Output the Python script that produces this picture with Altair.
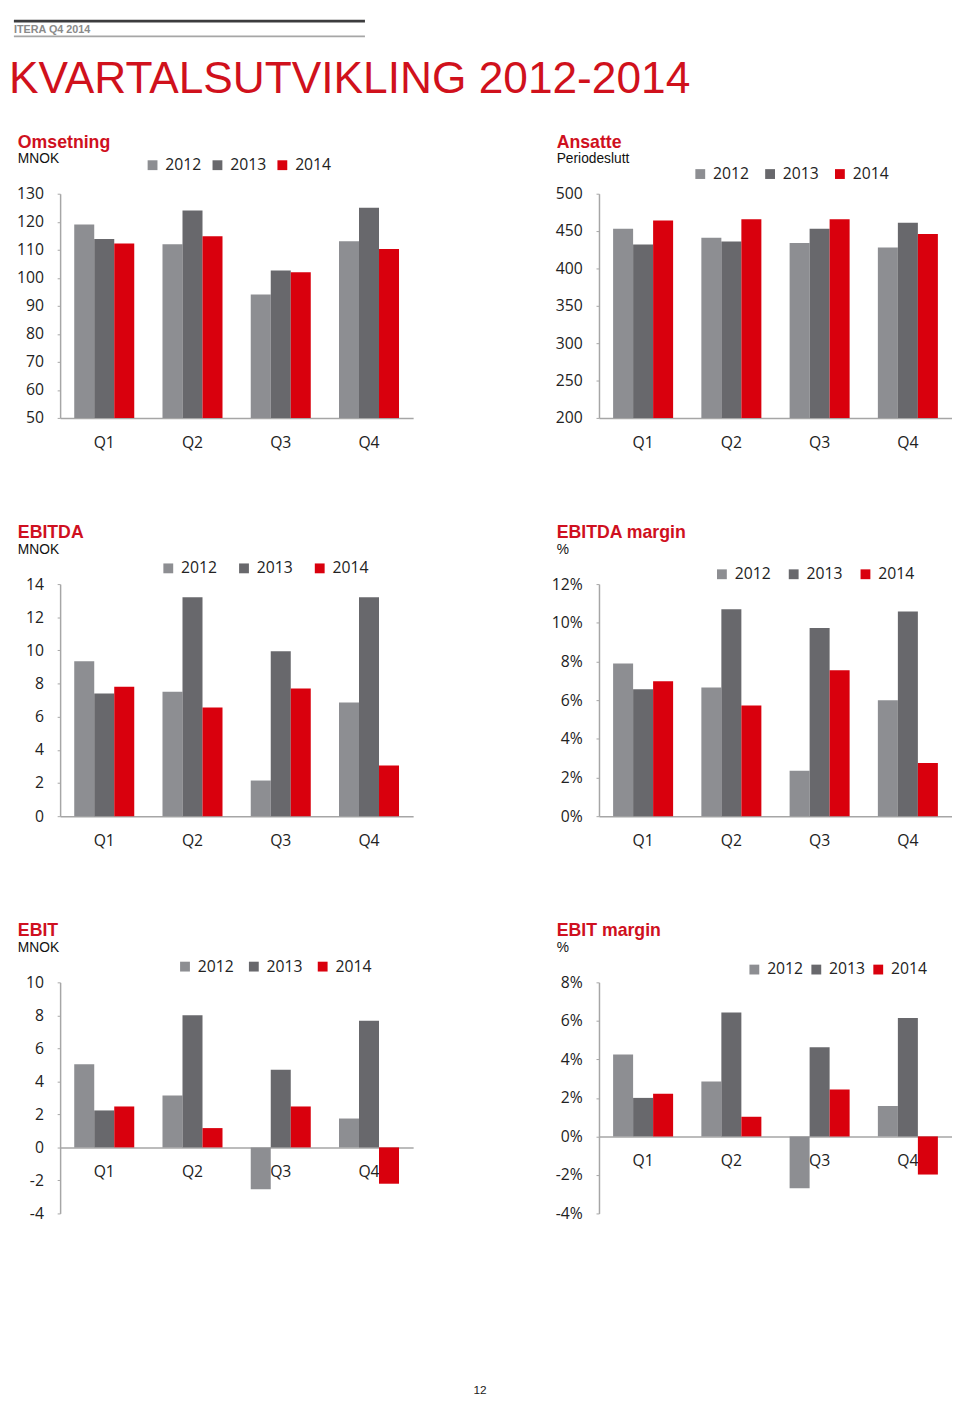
import altair as alt
import pandas as pd

quarters = ["Q1", "Q2", "Q3", "Q4"]
years = ["2012", "2013", "2014"]
year_colors = ["#8d8e92", "#68686c", "#d9000d"]

omsetning_2012 = [119.0, 112.0, 94.0, 113.0]
omsetning_2013 = [113.8, 124.0, 102.6, 125.0]
omsetning_2014 = [112.2, 114.8, 102.0, 110.3]

ansatte_2012 = [453, 441, 434, 428]
ansatte_2013 = [432, 436, 453, 461]
ansatte_2014 = [464, 466, 466, 446]

ebitda_2012 = [9.35, 7.5, 2.15, 6.85]
ebitda_2013 = [7.4, 13.2, 9.95, 13.2]
ebitda_2014 = [7.8, 6.55, 7.7, 3.05]

ebitda_margin_2012 = [7.9, 6.65, 2.35, 6.0]
ebitda_margin_2013 = [6.56, 10.7, 9.73, 10.58]
ebitda_margin_2014 = [6.98, 5.72, 7.55, 2.75]

ebit_2012 = [5.04, 3.15, -2.54, 1.75]
ebit_2013 = [2.24, 8.0, 4.7, 7.68]
ebit_2014 = [2.48, 1.17, 2.48, -2.2]

ebit_margin_2012 = [4.25, 2.85, -2.69, 1.58]
ebit_margin_2013 = [2.0, 6.44, 4.63, 6.15]
ebit_margin_2014 = [2.22, 1.02, 2.44, -1.98]

ticks_omsetning = [50, 60, 70, 80, 90, 100, 110, 120, 130]
ticks_ansatte = [200, 250, 300, 350, 400, 450, 500]
ticks_ebitda = [0, 2, 4, 6, 8, 10, 12, 14]
ticks_ebitda_margin = [0, 2, 4, 6, 8, 10, 12]
ticks_ebit = [-4, -2, 0, 2, 4, 6, 8, 10]
ticks_ebit_margin = [-4, -2, 0, 2, 4, 6, 8]

RED = "#cf1020"
AXIS_GRAY = "#a6a6a6"
LABEL_FONT = "Open Sans"
TITLE_FONT = "Liberation Sans"
PLOT_W = 359


def make_df(v2012, v2013, v2014):
    rows = []
    for yr, vals in zip(years, [v2012, v2013, v2014]):
        for q, v in zip(quarters, vals):
            rows.append({"quarter": q, "year": yr, "value": v})
    return pd.DataFrame(rows)


def panel(title, unit, df, ticks, base, pct, height, leg_x, leg_y, leg_gap):
    lo, hi = ticks[0], ticks[-1]
    if pct:
        label_expr = "(datum.value < 0 ? '-' : '') + abs(datum.value) + '%'"
    else:
        label_expr = "(datum.value < 0 ? '-' : '') + abs(datum.value)"
    x_offset = -height * (base - lo) / (hi - lo) if lo < 0 else 0

    bars = alt.Chart(df).mark_bar().encode(
        x=alt.X(
            "quarter:N",
            sort=quarters,
            scale=alt.Scale(paddingInner=0.32, paddingOuter=0.16),
            axis=alt.Axis(
                title=None, labelAngle=0, ticks=False, tickSize=0,
                labelPadding=17, domainColor=AXIS_GRAY, domainWidth=1.5,
                offset=x_offset, labelFontSize=16, labelFont=LABEL_FONT,
                labelColor="#222222",
            ),
        ),
        xOffset=alt.XOffset("year:N", sort=years,
                            scale=alt.Scale(paddingInner=0, paddingOuter=0)),
        y=alt.Y(
            "value:Q",
            scale=alt.Scale(domain=[lo, hi], nice=False, zero=False),
            axis=alt.Axis(
                title=None, values=ticks, labelExpr=label_expr, grid=False,
                tickSize=3, tickColor=AXIS_GRAY, domainColor=AXIS_GRAY,
                domainWidth=1.5, labelPadding=14, minExtent=53, maxExtent=53,
                labelFontSize=16, labelFont=LABEL_FONT, labelColor="#222222",
            ),
        ),
        y2=alt.datum(base),
        color=alt.Color(
            "year:N",
            scale=alt.Scale(domain=years, range=year_colors),
            legend=alt.Legend(
                title=None, orient="none", direction="horizontal",
                legendX=leg_x, legendY=leg_y, symbolType="square",
                symbolSize=100, symbolStrokeWidth=0, symbolOpacity=1,
                labelFontSize=16, labelFont=LABEL_FONT, labelColor="#222222",
                labelOffset=5, padding=0, columnPadding=leg_gap, rowPadding=0,
            ),
        ),
    )
    t1 = alt.Chart(pd.DataFrame({"t": [title]})).mark_text(
        align="left", baseline="alphabetic", fontSize=18, fontWeight="bold",
        font=TITLE_FONT, color=RED,
    ).encode(text="t:N", x=alt.value(-43), y=alt.value(-47))
    t2 = alt.Chart(pd.DataFrame({"t": [unit]})).mark_text(
        align="left", baseline="alphabetic", fontSize=14,
        font=TITLE_FONT, color="#111111",
    ).encode(text="t:N", x=alt.value(-43), y=alt.value(-31))
    return alt.layer(bars, t1, t2).properties(width=PLOT_W, height=height)


c1 = panel("Omsetning", "MNOK", make_df(omsetning_2012, omsetning_2013, omsetning_2014),
           ticks_omsetning, 50, False, 228, 86, -37, 8)
c2 = panel("Ansatte", "Periodeslutt", make_df(ansatte_2012, ansatte_2013, ansatte_2014),
           ticks_ansatte, 200, False, 228, 95, -28, 13)
c3 = panel("EBITDA", "MNOK", make_df(ebitda_2012, ebitda_2013, ebitda_2014),
           ticks_ebitda, 0, False, 236, 102, -24, 19)
c4 = panel("EBITDA margin", "%", make_df(ebitda_margin_2012, ebitda_margin_2013, ebitda_margin_2014),
           ticks_ebitda_margin, 0, True, 236, 117, -18, 15)
c5 = panel("EBIT", "MNOK", make_df(ebit_2012, ebit_2013, ebit_2014),
           ticks_ebit, 0, False, 235, 119, -24, 12)
c6 = panel("EBIT margin", "%", make_df(ebit_margin_2012, ebit_margin_2013, ebit_margin_2014),
           ticks_ebit_margin, 0, True, 235, 150, -21, 5)

# header (origin is aligned with the plot origin of the left-hand panels)
hdr = pd.DataFrame({"t": ["ITERA Q4 2014"]})
hbar = alt.Chart(hdr).mark_rect(color="#3c3c3e").encode(
    x=alt.value(-47), x2=alt.value(310), y=alt.value(0), y2=alt.value(3))
htext = alt.Chart(hdr).mark_text(
    align="left", baseline="alphabetic", fontSize=11, fontWeight="bold",
    font=TITLE_FONT, color="#8a8a8a").encode(text="t:N", x=alt.value(-47), y=alt.value(14))
hline = alt.Chart(hdr).mark_rule(color=AXIS_GRAY, strokeWidth=2).encode(
    x=alt.value(-47), x2=alt.value(310), y=alt.value(17))
htitle = alt.Chart(pd.DataFrame({"t": ["KVARTALSUTVIKLING 2012-2014"]})).mark_text(
    align="left", baseline="alphabetic", fontSize=45, font=TITLE_FONT,
    color="#d0111c").encode(text="t:N", x=alt.value(-52), y=alt.value(75))
header = alt.layer(hbar, htext, hline, htitle).properties(width=700, height=100)

footer = alt.Chart(pd.DataFrame({"t": ["12"]})).mark_text(
    align="center", baseline="alphabetic", fontSize=12, font=TITLE_FONT,
    color="#222222").encode(text="t:N", x=alt.value(427), y=alt.value(160)
).properties(width=700, height=162)

r1 = alt.hconcat(c1, c2, spacing=136).resolve_legend(color="independent").resolve_scale(color="independent")
r2 = alt.hconcat(c3, c4, spacing=136).resolve_legend(color="independent").resolve_scale(color="independent")
r3 = alt.hconcat(c5, c6, spacing=136).resolve_legend(color="independent").resolve_scale(color="independent")

rows = alt.vconcat(r1, r2, r3, spacing=75).resolve_legend(
    color="independent").resolve_scale(color="independent")

chart = alt.vconcat(header, rows, footer, spacing=16).resolve_legend(
    color="independent").resolve_scale(color="independent").properties(
    padding={"left": 0, "top": 0, "right": 0, "bottom": 0}
).configure_view(stroke=None)

chart.save("out.html", embed_options={"renderer": "svg", "actions": False})
